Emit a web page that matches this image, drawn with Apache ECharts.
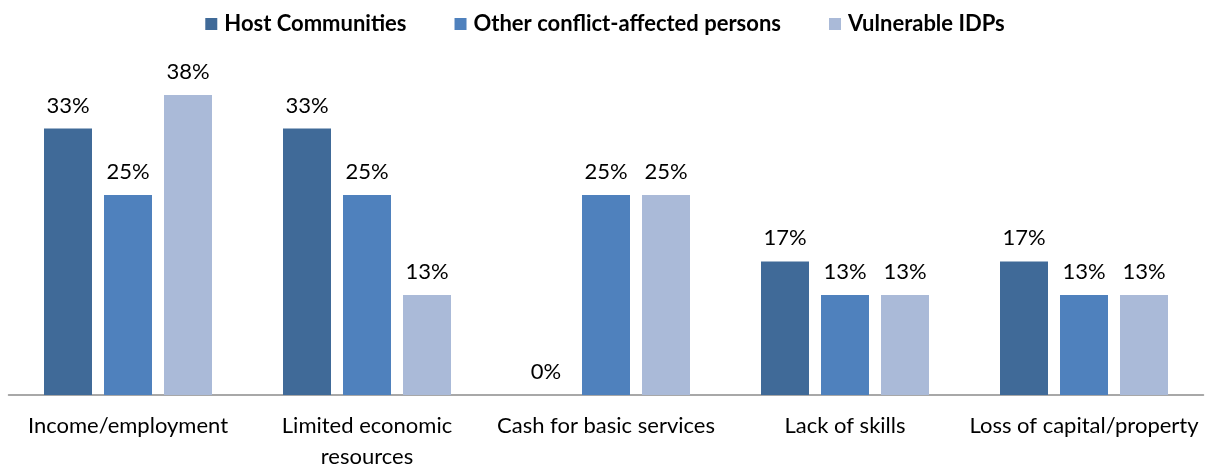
<!DOCTYPE html>
<html>
<head>
<meta charset="utf-8">
<script src="https://cdn.jsdelivr.net/npm/echarts@6/dist/echarts.min.js"></script>
<style>
  html, body { margin: 0; padding: 0; background: #fff; overflow: hidden; }
  #chart { width: 1210px; height: 465px; }
</style>
</head>
<body>
<div id="chart"></div>
<script>
// Reasons given, share of respondents (%) per group
const categories = ['Income/employment', 'Limited economic\nresources', 'Cash for basic services', 'Lack of skills', 'Loss of capital/property'];
const hostCommunities = [33.3, 33.3, 0, 16.7, 16.7];
const otherConflictAffected = [25.0, 25.0, 25.0, 12.5, 12.5];
const vulnerableIDPs = [37.5, 12.5, 25.0, 12.5, 12.5];

const seriesNames = ['Host Communities', 'Other conflict-affected persons', 'Vulnerable IDPs'];
const seriesColors = ['#406A98', '#4F81BD', '#AABAD8'];
const seriesData = [hostCommunities, otherConflictAffected, vulnerableIDPs];

const FONT = 'Lato, "Open Sans", sans-serif';

const chart = echarts.init(document.getElementById('chart'), null, { renderer: 'canvas' });

chart.setOption({
  animation: false,
  backgroundColor: '#ffffff',
  legend: {
    top: 8,
    left: 'center',
    itemWidth: 12,
    itemHeight: 12,
    itemGap: 48,
    icon: 'rect',
    textStyle: { fontFamily: FONT, fontSize: 22, fontWeight: 'bold', color: '#000', padding: [0, 0, 0, 2] },
    data: seriesNames
  },
  grid: { left: 8.5, right: 6.5, top: 75, bottom: 70, outerBoundsMode: 'none', containLabel: false },
  xAxis: {
    type: 'category',
    data: categories,
    axisLine: { lineStyle: { color: '#8c8c8c', width: 1.5 } },
    axisTick: { show: false },
    axisLabel: {
      fontFamily: FONT,
      fontSize: 22,
      color: '#000',
      margin: 15,
      lineHeight: 31,
      interval: 0
    }
  },
  yAxis: {
    type: 'value',
    min: 0,
    max: 40,
    show: false,
    splitLine: { show: false }
  },
  series: seriesNames.map((name, i) => ({
    name: name,
    type: 'bar',
    data: seriesData[i],
    barWidth: 48,
    barGap: '25%',
    itemStyle: { color: seriesColors[i] },
    label: {
      show: true,
      position: 'top',
      distance: 12,
      fontFamily: FONT,
      fontSize: 22,
      color: '#000',
      formatter: p => Math.round(p.value) + '%'
    }
  }))
});
</script>
</body>
</html>
